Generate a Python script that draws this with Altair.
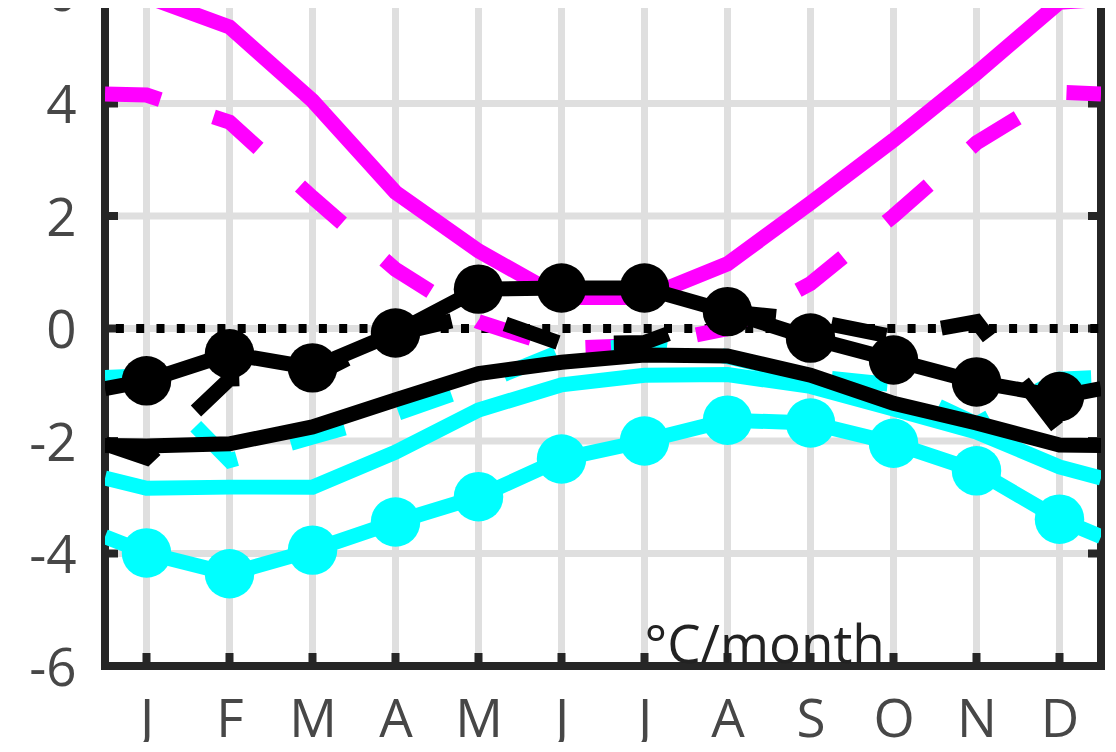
import json
import altair as alt
import pandas as pd

# ---------------- data ----------------
months = ["J", "F", "M", "A", "M", "J", "J", "A", "S", "O", "N", "D"]
month_num = list(range(1, 13))
edge_x = [0.5, 12.5]
y_ticks = [-6, -4, -2, 0, 2, 4, 6]
y_inner = [-4, -2, 0, 2, 4]

mag_solid = [5.9, 5.36, 4.05, 2.42, 1.38, 0.55, 0.55, 1.15, 2.23, 3.35, 4.54, 5.8]
mag_solid_edge = 5.85
mag_dash = [4.15, 3.67, 2.33, 1.05, 0.12, -0.35, -0.3, 0.0, 0.8, 2.0, 3.3, 4.2]
mag_dash_edge = 4.17
cyan_solid = [-2.84, -2.82, -2.82, -2.2, -1.45, -1.0, -0.83, -0.82, -1.03, -1.43, -1.84, -2.46]
cyan_solid_edge = -2.66
cyan_dash = [-0.84, -2.35, -1.93, -1.52, -1.0, -0.4, -0.3, -0.5, -0.85, -1.0, -1.7, -0.9]
cyan_dash_edge = -0.87
cyan_mark = [-3.99, -4.36, -3.94, -3.44, -2.99, -2.32, -2.0, -1.63, -1.68, -2.04, -2.53, -3.39]
cyan_mark_edge = -3.7
black_solid = [-2.09, -2.05, -1.75, -1.27, -0.8, -0.6, -0.47, -0.49, -0.83, -1.33, -1.68, -2.07]
black_solid_edge = -2.08
black_dash = [-2.3, -0.9, -0.85, -0.1, 0.25, -0.27, -0.25, 0.3, 0.15, -0.15, 0.12, -1.8]
black_dash_edge = -2.05
black_mark = [-0.93, -0.45, -0.7, -0.08, 0.7, 0.72, 0.72, 0.3, -0.17, -0.56, -0.95, -1.21]
black_mark_edge = -1.07

unit_label = "°C/month"

# ---------------- layout / style ----------------
W, H = 996, 675
FONT = "Open Sans"
LW = 15
DASH = [56, 56]
MSIZE = 2450          # circle diameter = sqrt(size) ~ 50 px
GRID = "#dfdfdf"
FRAME = "#262626"

xscale = alt.Scale(domain=[0.5, 12.5], nice=False, zero=False)
yscale = alt.Scale(domain=[-6, 6], nice=False, zero=False)

xaxis = alt.Axis(
    values=month_num,
    labelExpr=json.dumps(months) + "[datum.value - 1]",
    grid=False, ticks=False, tickSize=0, domain=False,
    labelFont=FONT, labelFontSize=53, labelColor="#474747",
    labelPadding=28, labelFlush=False, labelOverlap=False, title=None,
)
yaxis = alt.Axis(
    values=y_ticks,
    labelExpr="'' + datum.value",
    grid=False, ticks=False, tickSize=0, domain=False,
    labelFont=FONT, labelFontSize=53, labelColor="#474747",
    labelPadding=29, labelFlush=False, labelOverlap=False, labelOffset=3,
    title=None,
)


def X():
    return alt.X("m:Q", scale=xscale, axis=xaxis)


def Y():
    return alt.Y("v:Q", scale=yscale, axis=yaxis)


def series_df(vals, edge):
    return pd.DataFrame({"m": [edge_x[0]] + month_num + [edge_x[1]],
                         "v": [edge] + vals + [edge]})


def points_df(vals):
    return pd.DataFrame({"m": month_num, "v": vals})


month_df = pd.DataFrame({"m": month_num})
ytick_df = pd.DataFrame({"v": y_inner})
one_df = pd.DataFrame({"a": [0]})
zero_df = pd.DataFrame({"v": [0]})

layers = []

# grid
layers.append(alt.Chart(month_df).mark_rule(color=GRID, strokeWidth=7).encode(
    x=X(), y=alt.value(0), y2=alt.value(H)))
layers.append(alt.Chart(ytick_df).mark_rule(color=GRID, strokeWidth=7).encode(
    y=Y(), x=alt.value(0), x2=alt.value(W)))

# frame
layers.append(alt.Chart(one_df).mark_rect(fillOpacity=0, stroke=FRAME, strokeWidth=8).encode(
    x=alt.value(0), x2=alt.value(W), y=alt.value(0), y2=alt.value(H)))

# inward ticks
TL = 13
layers.append(alt.Chart(ytick_df).mark_rule(color=FRAME, strokeWidth=8).encode(
    y=Y(), x=alt.value(0), x2=alt.value(TL)))
layers.append(alt.Chart(ytick_df).mark_rule(color=FRAME, strokeWidth=8).encode(
    y=Y(), x=alt.value(W - TL), x2=alt.value(W)))
layers.append(alt.Chart(month_df).mark_rule(color=FRAME, strokeWidth=8).encode(
    x=X(), y=alt.value(H - TL), y2=alt.value(H + 4)))
layers.append(alt.Chart(month_df).mark_rule(color=FRAME, strokeWidth=8).encode(
    x=X(), y=alt.value(-4), y2=alt.value(TL)))

# zero dotted line
layers.append(alt.Chart(zero_df).mark_rule(color="black", strokeWidth=9, strokeDash=[8, 12.3],
                                           strokeDashOffset=17.6).encode(y=Y()))


def line(vals, edge, color, dash=False):
    kw = dict(color=color, strokeWidth=LW, strokeCap="butt", clip=True)
    if dash:
        kw["strokeDash"] = DASH
    return alt.Chart(series_df(vals, edge)).mark_line(**kw).encode(x=X(), y=Y())


def dots(vals, color):
    return alt.Chart(points_df(vals)).mark_circle(color=color, size=MSIZE, opacity=1).encode(
        x=X(), y=Y())


layers += [
    line(mag_solid, mag_solid_edge, "#ff00ff"),
    line(mag_dash, mag_dash_edge, "#ff00ff", dash=True),
    line(cyan_solid, cyan_solid_edge, "#00ffff"),
    line(cyan_dash, cyan_dash_edge, "#00ffff", dash=True),
    line(cyan_mark, cyan_mark_edge, "#00ffff"),
    dots(cyan_mark, "#00ffff"),
    line(black_solid, black_solid_edge, "#000000"),
    line(black_dash, black_dash_edge, "#000000", dash=True),
    line(black_mark, black_mark_edge, "#000000"),
    dots(black_mark, "#000000"),
]

text_df = pd.DataFrame({"m": [7], "v": [-6], "t": [unit_label]})
layers.append(alt.Chart(text_df).mark_text(align="left", baseline="alphabetic", dy=-3,
                                           font=FONT, fontSize=53, color="#222222").encode(
    x=X(), y=Y(), text="t:N"))

chart = alt.layer(*layers).properties(
    width=W, height=H,
    padding={"left": 97, "top": -17, "right": 5, "bottom": 76},
    autosize=alt.AutoSizeParams(type="none"),
    background="white",
).configure_view(stroke=None)

chart.save("out.html", embed_options={"renderer": "svg", "actions": False})
